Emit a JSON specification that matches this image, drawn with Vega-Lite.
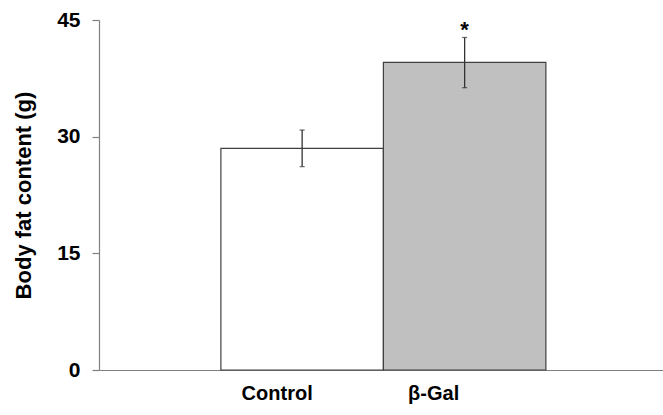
{
  "$schema": "https://vega.github.io/schema/vega-lite/v6.json",
  "width": 564,
  "height": 350,
  "autosize": {"type": "none"},
  "padding": {"left": 99, "top": 20, "right": 0, "bottom": 45},
  "background": "white",
  "config": {"view": {"stroke": null}, "font": "Liberation Sans"},
  "data": {"values": [
    {"group": "Control", "mean": 28.5, "lo": 26.15, "hi": 30.85, "sig": ""},
    {"group": "β-Gal", "mean": 39.55, "lo": 36.3, "hi": 42.75, "sig": "*"}
  ]},
  "encoding": {
    "x": {
      "field": "group", "type": "nominal", "sort": ["Control", "β-Gal"],
      "scale": {"paddingInner": 0, "paddingOuter": 0.7354, "align": 0.51},
      "axis": {
        "title": null, "labelAngle": 0, "ticks": false, "tickSize": 0,
        "domainColor": "#808080", "domainWidth": 1.2,
        "labelFont": "Liberation Sans", "labelFontWeight": "bold", "labelFontSize": 20,
        "labelColor": "black", "labelPadding": 13,
        "labelOffset": {"condition": {"test": "datum.value == 'Control'", "value": -25}, "value": -31}
      }
    }
  },
  "layer": [
    {
      "mark": {"type": "bar", "stroke": "#404040", "strokeWidth": 1.2},
      "encoding": {
        "y": {
          "field": "mean", "type": "quantitative",
          "scale": {"domain": [0, 45], "nice": false},
          "axis": {
            "values": [0, 15, 30, 45], "grid": false, "title": "Body fat content (g)",
            "domainColor": "#808080", "domainWidth": 1.2, "tickColor": "#808080", "tickSize": 7, "tickWidth": 1.2,
            "labelFont": "Liberation Sans", "labelFontWeight": "bold", "labelFontSize": 21, "labelColor": "black",
            "labelPadding": 12,
            "titleFont": "Liberation Sans", "titleFontWeight": "bold", "titleFontSize": 22, "titleColor": "black",
            "titlePadding": 21
          }
        },
        "color": {"field": "group", "type": "nominal", "scale": {"domain": ["Control", "β-Gal"], "range": ["#ffffff", "#c0c0c0"]}, "legend": null}
      }
    },
    {
      "mark": {"type": "rule", "color": "#333333", "strokeWidth": 1.3},
      "encoding": {"y": {"field": "lo", "type": "quantitative"}, "y2": {"field": "hi"}}
    },
    {
      "mark": {"type": "tick", "color": "#333333", "size": 5, "thickness": 1.3},
      "encoding": {"y": {"field": "lo", "type": "quantitative"}}
    },
    {
      "mark": {"type": "tick", "color": "#333333", "size": 5, "thickness": 1.3},
      "encoding": {"y": {"field": "hi", "type": "quantitative"}}
    },
    {
      "mark": {"type": "text", "font": "Liberation Sans", "fontWeight": "bold", "fontSize": 22, "baseline": "alphabetic", "dy": -1, "color": "black"},
      "encoding": {"y": {"field": "hi", "type": "quantitative"}, "text": {"field": "sig"}}
    }
  ]
}
